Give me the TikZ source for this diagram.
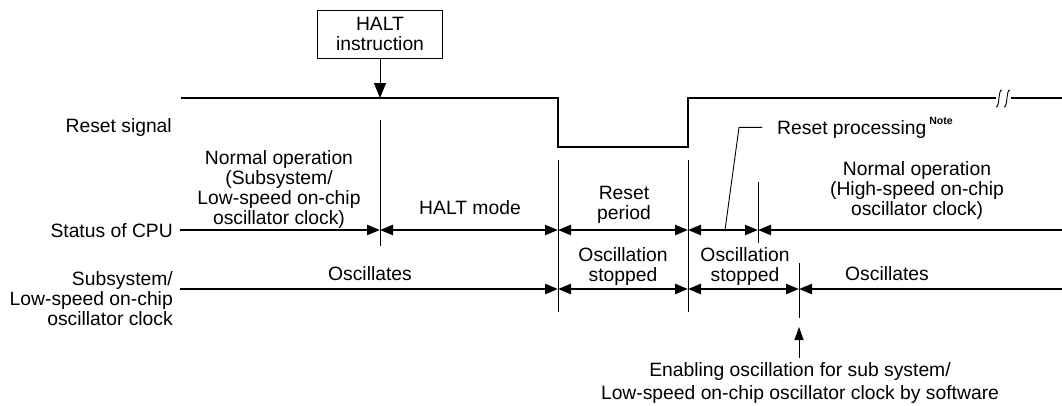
\documentclass[tikz,border=0pt]{standalone}
\usepackage{fontspec}
\setmainfont{Liberation Sans}
\usetikzlibrary{arrows.meta,positioning,calc}

\begin{document}
\begin{tikzpicture}[x=1pt,y=-1pt,
    >={Triangle[length=13pt,width=10pt]},
    sig/.style={line width=2.4pt},
    tick/.style={line width=0.9pt},
    lbl/.style={font=\fontsize{19.3}{20}\selectfont,align=center,inner sep=0pt}]
  \useasboundingbox (0,0) rectangle (1062,405);

  % HALT instruction
  \node[draw,line width=0.9pt,lbl,minimum width=125pt,minimum height=48pt] (halt) at (380,34) {HALT\\instruction};
  \coordinate (hin) at (380,98);
  \draw[tick,-{Triangle[length=15pt,width=12pt]}] (halt) -- (hin);

  % Reset signal
  \draw[sig] (181,98) -- (558,98) -- (558,147) -- (688,147) -- (688,98) -- (996,98);
  \draw[sig] (1011,98) -- (1062,98);
  \draw[tick] (1002,90) .. controls (998,89) and (1000,107) .. (996,107);
  \draw[tick] (1010,90) .. controls (1006,89) and (1008,107) .. (1004,107);

  % time marks
  \draw[tick] (380,120) -- (380,246);
  \draw[tick] (558,160) -- (558,312);
  \draw[tick] (688,160) -- (688,312);
  \draw[tick] (758,182) -- (758,243);
  \draw[tick] (799,263) -- (799,318);

  % Status of CPU
  \coordinate (c0) at (180,230);
  \coordinate (c1) at (380,230);
  \coordinate (c2) at (558,230);
  \coordinate (c3) at (688,230);
  \coordinate (c4) at (758,230);
  \coordinate (c5) at (1062,230);
  \draw[sig,->] (c0) -- (c1);
  \draw[sig,<->] (c1) -- (c2);
  \draw[sig,<->] (c2) -- (c3);
  \draw[sig,<->] (c3) -- (c4);
  \draw[sig,<-] (c4) -- (c5);

  % Subsystem clock
  \coordinate (s0) at (180,289);
  \coordinate (s1) at (558,289);
  \coordinate (s2) at (688,289);
  \coordinate (s3) at (799,289);
  \coordinate (s4) at (1062,289);
  \draw[sig,->] (s0) -- (s1);
  \draw[sig,<->] (s1) -- (s2);
  \draw[sig,<->] (s2) -- (s3);
  \draw[sig,<-] (s3) -- (s4);

  % row labels
  \node[lbl,anchor=base east] (lrst) at (172,132) {Reset signal};
  \node[lbl,anchor=base east] (lcpu) at (173,237) {Status of CPU};
  \node[lbl,anchor=east,align=right] (lsub) at (173,299) {Subsystem/\\Low-speed on-chip\\oscillator clock};

  % phase labels
  \node[lbl] (nop1) at (279,189) {Normal operation\\(Subsystem/\\Low-speed on-chip\\oscillator clock)};
  \node[lbl,anchor=base] (hmode) at (470,214) {HALT mode};
  \node[lbl] (rper) at (624,205) {Reset\\period};
  \node[lbl] (nop2) at (917,190) {Normal operation\\(High-speed on-chip\\oscillator clock)};
  \node[lbl,anchor=base] (osc1) at (370,280) {Oscillates};
  \node[lbl] (ost1) at (623,267) {Oscillation\\stopped};
  \node[lbl] (ost2) at (745,267) {Oscillation\\stopped};
  \node[lbl,anchor=base] (osc2) at (887,280) {Oscillates};

  % Reset processing
  \node[lbl,anchor=base west] (rproc) at (777,134) {Reset processing\hspace{3pt}\raisebox{10pt}{\fontsize{10.5}{11}\selectfont\bfseries Note}};
  \coordinate (rp0) at (725,230);
  \draw[tick] (rp0) -- ([xshift=-38pt]rproc.west) -- ([xshift=-15pt]rproc.west);

  % software enable
  \node[lbl,font=\fontsize{19.3}{23}\selectfont] (enab) at (800,383.5) {Enabling oscillation for sub system/\\Low-speed on-chip oscillator clock by software};
  \coordinate (eo) at (799,327);
  \draw[tick,-{Triangle[length=13pt,width=9pt]}] ($(eo |- enab.north)+(0,-5)$) -- (eo);
\end{tikzpicture}
\end{document}
